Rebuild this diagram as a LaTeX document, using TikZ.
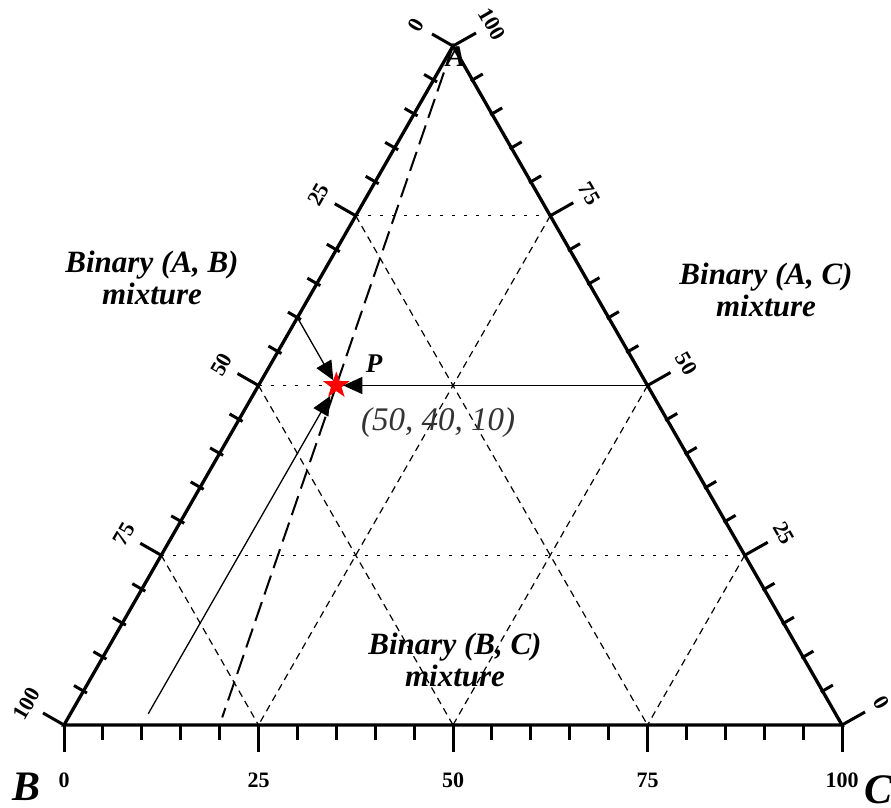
\documentclass[tikz,border=0pt]{standalone}
\usepackage{fontspec}
\setmainfont{Liberation Serif}
\usetikzlibrary{arrows.meta, calc, shapes.geometric}

\begin{document}
\begin{tikzpicture}[
  x=1pt, y=-1pt,
  side/.style={line width=3.3pt},
  tck/.style={line width=3pt},
  hgrid/.style={line width=1.1pt, dash pattern=on 3pt off 9pt},
  dgrid/.style={line width=1.2pt, dash pattern=on 7pt off 5pt},
  tie/.style={line width=2pt, dash pattern=on 20pt off 8pt},
  guide/.style={line width=1.3pt, -{Triangle[length=19pt, width=17pt]}},
  ticklab/.style={font=\fontsize{22}{24}\selectfont\bfseries, inner sep=0pt},
  region/.style={font=\fontsize{31}{32}\selectfont\bfseries\itshape, align=center, inner sep=0pt},
  corner/.style={font=\fontsize{42}{44}\selectfont\bfseries\itshape, inner sep=0pt}
]
\useasboundingbox (0,0) rectangle (891,808);
\coordinate (A) at (453,46);
\coordinate (B) at (64,725);
\coordinate (C) at (842,725);

\foreach \t [evaluate=\t as \s using 1-\t] in {0.25,0.5,0.75} {
  \draw[hgrid] ($(A)!\t!(B)$) -- ($(A)!\t!(C)$);
  \draw[dgrid] ($(A)!\t!(B)$) -- ($(B)!\s!(C)$);
  \draw[dgrid] ($(A)!\t!(C)$) -- ($(B)!\t!(C)$);
}

\coordinate (b20) at ($(B)!0.2!(C)$);
\draw[tie, shorten >=8pt] (A) -- (b20);

\draw[side] (A) -- (B) -- (C) -- cycle;

\foreach \k in {1,2,3,4,6,7,8,9,11,12,13,14,16,17,18,19} {
  \draw[tck] ($(A)!\k/20!(B)+(3.5,2)$) -- ++(-13,-7.5);
  \draw[tck] ($(C)!\k/20!(A)+(-1.7,1)$) -- ++(12,-7);
  \draw[tck] ($(B)!\k/20!(C)$) -- ++(0,15);
}
\foreach \k/\v in {0/0,5/25,10/50,15/75,20/100} {
  \draw[tck] ($(A)!\k/20!(B)$) -- ++(-21,-12);
  \draw[tck] ($(C)!\k/20!(A)$) -- ++(23,-13);
  \draw[tck] ($(B)!\k/20!(C)$) -- ++(0,27);
  \node[ticklab, rotate=60] (ll\k) at ($(A)!\k/20!(B)+(-37,-21)$) {\v};
  \node[ticklab, rotate=-60] (rl\k) at ($(C)!\k/20!(A)+(39,-22)$) {\v};
  \node[ticklab] (bl\k) at ($(B)!\k/20!(C)+(0,55)$) {\v};
}

\coordinate (l40) at ($(A)!0.4!(B)$);
\coordinate (r50) at ($(C)!0.5!(A)$);
\coordinate (b10) at ($(B)!0.1!(C)$);
\node[star, star points=5, star point ratio=2.5, fill=red, minimum size=28pt, inner sep=0pt]
  (P) at ($0.5*(A)+0.4*(B)+0.1*(C)$) {};

\draw[guide, shorten >=6pt] (l40) -- (P.center);
\draw[guide, shorten >=7pt] (r50) -- (P.center);
\draw[guide, shorten <=13pt, shorten >=12pt] (b10) -- (P.center);

\node[region] (ab) at (152,278) {Binary (A, B)\\mixture};
\node[region] (ac) at (766,290) {Binary (A, C)\\mixture};
\node[region] (bc) at (455,660) {Binary (B, C)\\mixture};
\node[font=\fontsize{33}{34}\selectfont\itshape, text=black!80, inner sep=0pt] (val) at (438,423) {(50, 40, 10)};
\node[font=\fontsize{27}{28}\selectfont\bfseries\itshape, inner sep=0pt] (plab) at (374,364) {P};
\node[font=\fontsize{30}{32}\selectfont\bfseries\itshape, inner sep=0pt] (Alab) at (456,57) {A};
\node[corner] (Blab) at (27,787) {B};
\node[corner, anchor=west] (Clab) at (864,790) {C};
\end{tikzpicture}
\end{document}
